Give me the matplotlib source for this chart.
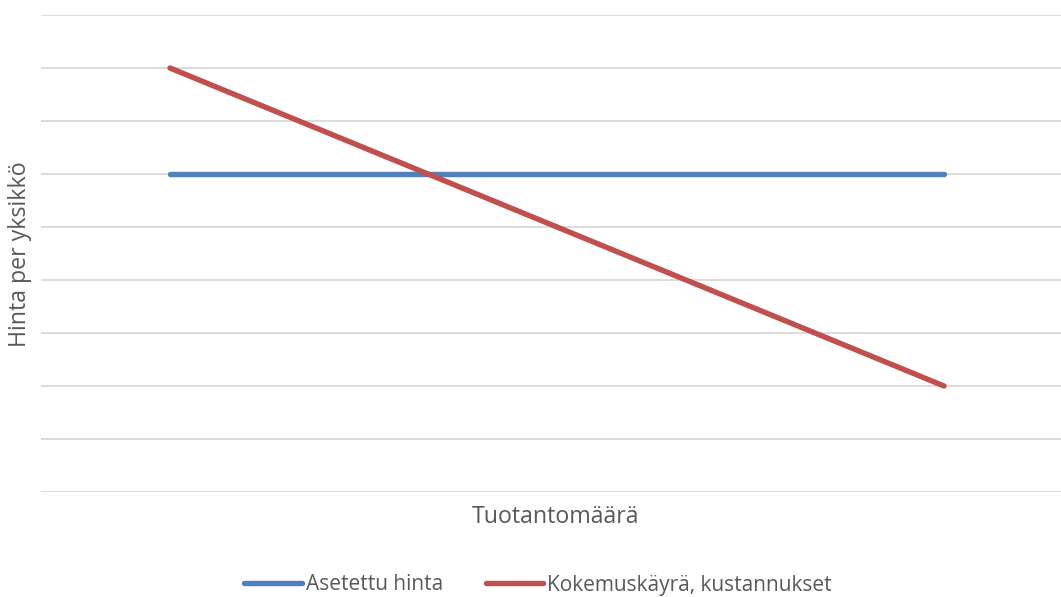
import matplotlib
matplotlib.use("Agg")
import matplotlib.pyplot as plt

plt.rcParams['font.family'] = ['Open Sans', 'DejaVu Sans']

categories = ["1", "2", "3", "4"]
set_price = [6, 6, 6, 6]
experience_cost = [8, 6, 4, 2]
series_names = ["Asetettu hinta", "Kokemuskäyrä, kustannukset"]
x_title = "Tuotantomäärä"
y_title = "Hinta per yksikkö"

W, H = 1061, 597
fig = plt.figure(figsize=(W / 100, H / 100), dpi=100)
left, right, top, bottom = 41, 1073, 15, 492
ax = fig.add_axes([left / W, (H - bottom) / H, (right - left) / W, (bottom - top) / H])

x = list(range(len(categories)))
ax.plot(x, set_price, color="#4F81BD", lw=3.9, solid_capstyle="round", label=series_names[0], zorder=3)
ax.plot(x, experience_cost, color="#C0504D", lw=3.9, solid_capstyle="round", label=series_names[1], zorder=3)

ax.set_xlim(-0.5, len(categories) - 0.5)
ax.set_ylim(0, 9)
ax.set_yticks(range(0, 10))
ax.set_xticks([])
ax.yaxis.grid(True, color="#D9D9D9", lw=1.3)
ax.set_axisbelow(True)
ax.tick_params(axis="y", length=0, labelleft=False)
for s in ax.spines.values():
    s.set_visible(False)

fig.text(555 / W, 1 - 517 / H, x_title, ha="center", va="center", fontsize=16.7, color="#595959")
fig.text(20 / W, 1 - 254 / H, y_title, ha="center", va="center", rotation=90, fontsize=16.7, color="#595959")

leg = fig.legend(loc="center", bbox_to_anchor=(538 / W, 1 - 585 / H), ncol=2, frameon=False,
                 fontsize=15, handlelength=2.75, handletextpad=0.2, columnspacing=2.05, borderpad=0)
for t in leg.get_texts():
    t.set_color("#595959")

fig.savefig("out.png", dpi=100)
